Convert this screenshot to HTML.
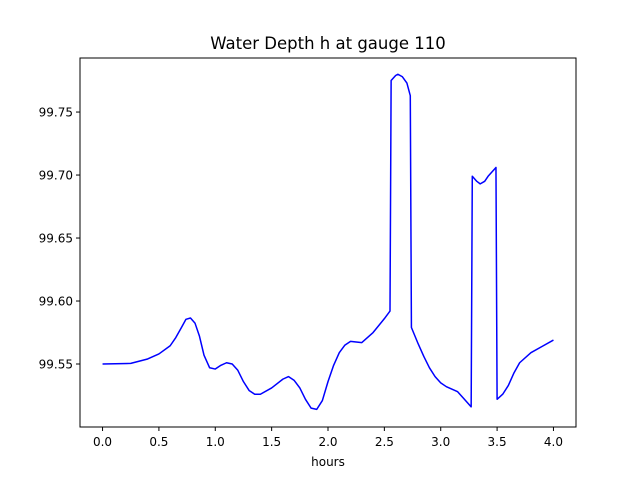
<!DOCTYPE html>
<html><head><meta charset="utf-8"><style>body{margin:0;background:#fff}svg{font-family:"DejaVu Sans","Liberation Sans",sans-serif}</style></head>
<body>
<svg id="c" width="640" height="480"></svg>
<script>
const xs=[0,0.25,0.4,0.5,0.6,0.65,0.7,0.74,0.78,0.82,0.86,0.9,0.95,1.0,1.05,1.1,1.15,1.2,1.25,1.3,1.35,1.4,1.5,1.6,1.65,1.7,1.75,1.8,1.85,1.9,1.95,2.0,2.05,2.1,2.15,2.2,2.3,2.4,2.5,2.55,2.56,2.6,2.62,2.66,2.7,2.73,2.74,2.8,2.85,2.9,2.95,3.0,3.05,3.15,3.2,3.27,3.28,3.32,3.35,3.39,3.42,3.49,3.50,3.55,3.6,3.65,3.7,3.8,3.9,4.0];
const ys=[99.55,99.5505,99.554,99.558,99.5645,99.571,99.579,99.5855,99.5865,99.5825,99.572,99.557,99.547,99.546,99.549,99.551,99.550,99.545,99.536,99.529,99.526,99.526,99.531,99.538,99.540,99.537,99.531,99.522,99.515,99.514,99.521,99.536,99.549,99.559,99.565,99.568,99.567,99.575,99.586,99.592,99.775,99.779,99.780,99.778,99.773,99.763,99.579,99.566,99.556,99.547,99.540,99.535,99.532,99.528,99.523,99.516,99.699,99.695,99.693,99.695,99.699,99.706,99.522,99.526,99.533,99.543,99.551,99.559,99.564,99.569];
const xTicks=[0,0.5,1,1.5,2,2.5,3,3.5,4];
const xTickLabels=["0.0","0.5","1.0","1.5","2.0","2.5","3.0","3.5","4.0"];
const yTicks=[99.55,99.60,99.65,99.70,99.75];
const yTickLabels=["99.55","99.60","99.65","99.70","99.75"];
const L=80,R=576,T=58,B=427,x0=-0.2,x1=4.2,y0=99.50,y1=99.7929;
const sx=v=>L+(v-x0)/(x1-x0)*(R-L), sy=v=>B-(v-y0)/(y1-y0)*(B-T);
const svg=document.getElementById('c'),NS='http://www.w3.org/2000/svg';
function mk(t,a,txt){const e=document.createElementNS(NS,t);for(const k in a)e.setAttribute(k,a[k]);if(txt!=null)e.textContent=txt;svg.appendChild(e);return e;}
let t=mk('text',{x:328,y:49,'text-anchor':'middle','font-size':16.5},'Water Depth h at gauge 110');


let p=mk('polyline',{points:xs.map((x,i)=>sx(x)+','+sy(ys[i])).join(' '),fill:'none',stroke:'#0000ff','stroke-width':1.5,'stroke-linejoin':'round'});


let f=mk('rect',{x:L,y:T,width:R-L,height:B-T,fill:'none',stroke:'#000','stroke-width':1});


xTicks.forEach((v,i)=>{const x=sx(v);
 let l=mk('line',{x1:x,x2:x,y1:B,y2:B+4,stroke:'#000'});
 
 
 let s=mk('text',{x:x,y:B+19,'text-anchor':'middle','font-size':12},xTickLabels[i]);
 
 });
yTicks.forEach((v,i)=>{const y=sy(v);
 let l=mk('line',{x1:L-4,x2:L,y1:y,y2:y,stroke:'#000'});
 
 
 let s=mk('text',{x:L-7,y:y+4.5,'text-anchor':'end','font-size':12},yTickLabels[i]);
 
 });
let xl=mk('text',{x:328,y:466,'text-anchor':'middle','font-size':12},'hours');


</script>
</body></html>
